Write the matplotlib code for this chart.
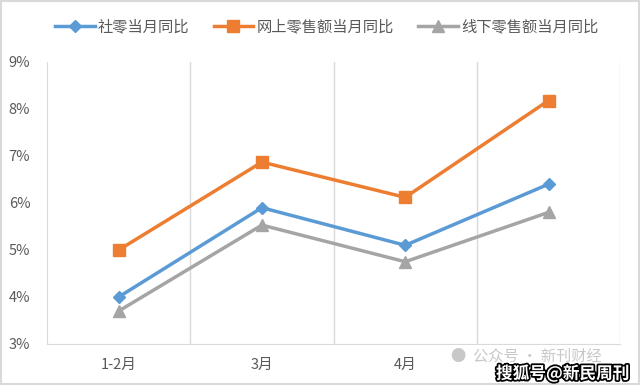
import matplotlib
matplotlib.use("Agg")
import matplotlib.pyplot as plt
from matplotlib.patches import Rectangle
import matplotlib.patheffects as pe

plt.rcParams['font.family'] = ['Noto Sans CJK SC', 'DejaVu Sans']

categories = ['1-2月', '3月', '4月', '5月']
# the last label is hidden under the watermark in the reference
visible_labels = ['1-2月', '3月', '4月', '']
retail = [4.0, 5.9, 5.1, 6.4]
online = [5.0, 6.87, 6.12, 8.18]
offline = [3.7, 5.53, 4.75, 5.8]
yticks = [3, 4, 5, 6, 7, 8, 9]
ylabels = ['3%', '4%', '5%', '6%', '7%', '8%', '9%']

fig = plt.figure(figsize=(6.4, 3.85), dpi=100)
fig.patches.append(Rectangle((0.002, 0.003), 0.996, 0.994, transform=fig.transFigure,
                             fill=False, edgecolor='#d9d9d9', linewidth=1.5))
ax = fig.add_axes([0.0734, 0.1065, 0.8956, 0.7325])

x = list(range(len(categories)))
ax.plot(x, retail, color='#5b9bd5', lw=2.5, marker='D', ms=6, label='社零当月同比')
ax.plot(x, online, color='#ed7d31', lw=2.5, marker='s', ms=8, label='网上零售额当月同比')
ax.plot(x, offline, color='#a5a5a5', lw=2.5, marker='^', ms=8, label='线下零售额当月同比')

ax.set_xlim(-0.5, len(categories) - 0.5)
ax.set_ylim(3, 9)
ax.set_yticks(yticks)
ax.set_yticklabels(ylabels)
ax.set_xticks(x)
ax.set_xticklabels(visible_labels)
for xb in [0.5, 1.5, 2.5, 3.5]:
    ax.axvline(xb, color='#d9d9d9', lw=1, zorder=0)
for s in ['top', 'right']:
    ax.spines[s].set_visible(False)
ax.spines['left'].set_color('#d9d9d9')
ax.spines['bottom'].set_color('#d9d9d9')
ax.tick_params(axis='both', length=0, colors='#595959', labelsize=10.5)
ax.tick_params(axis='x', pad=10)
ax.tick_params(axis='y', pad=12)

leg = fig.legend(loc='center', bbox_to_anchor=(0.51, 0.93), ncol=3, frameon=False,
                 fontsize=11, handlelength=2.6, columnspacing=1.6, handletextpad=0.2)
for t in leg.get_texts():
    t.set_color('#595959')

fig.text(0.705, 0.075, '●  公众号 · 新刊财经', fontsize=11, color='#c8c8c8', va='center',
         bbox=dict(facecolor='white', edgecolor='none', pad=2))
fig.text(0.775, 0.03, '搜狐号@新民周刊', fontsize=12, color='white', va='center', fontweight='bold',
         path_effects=[pe.withStroke(linewidth=2.5, foreground='black')])

fig.savefig('out.png', dpi=100)
